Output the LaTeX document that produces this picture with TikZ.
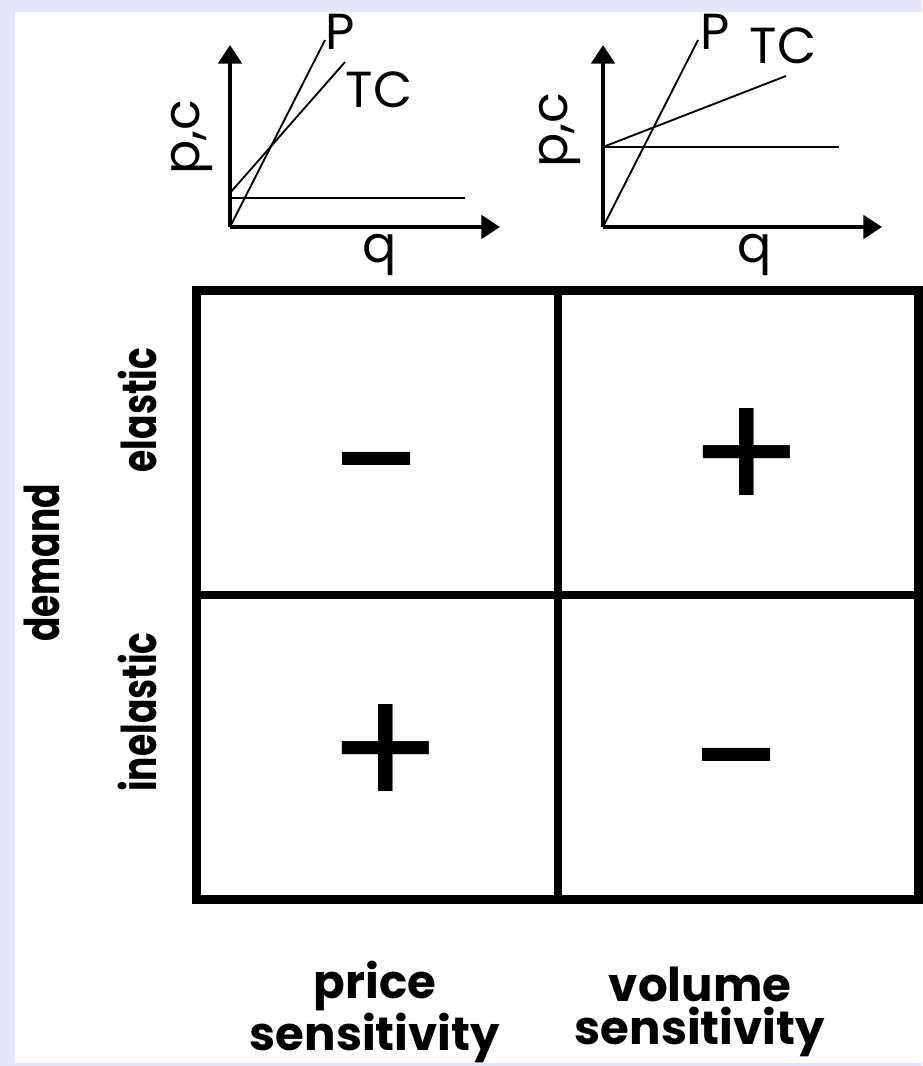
\documentclass[tikz,border=0pt]{standalone}
\usepackage{fontspec}
\setmainfont{Poppins}
\newfontfamily\rowfont{Poppins}[FakeStretch=0.75]
\newfontfamily\colfont{Poppins}[FakeStretch=1.0]
\usetikzlibrary{arrows.meta,positioning,calc}
\definecolor{pagelav}{RGB}{230,230,250}
\tikzset{
  axis/.style={line width=3pt,-{Triangle[length=14pt,width=17.5pt]}},
  curve/.style={line width=1.4pt},
  frame/.style={line width=6.75pt},
  divider/.style={line width=6pt},
  axlabel/.style={inner sep=0pt,font=\fontsize{38}{40}\selectfont},
  rowlabel/.style={inner sep=0pt,rotate=90,font=\rowfont\bfseries\fontsize{36}{38}\selectfont},
  collabel/.style={inner sep=0pt,align=center,font=\colfont\bfseries\fontsize{35}{32}\selectfont},
  sign/.style={inner sep=0pt,font=\fontsize{128}{128}\selectfont},
}

\begin{document}
\begin{tikzpicture}[x=0.75pt,y=-0.75pt]
  % page
  \fill[pagelav] (0,0) rectangle (922,1066);
  \fill[white] (15,12) rectangle (922,1063);
  \useasboundingbox (0,0) rectangle (922,1066);

  % left chart: price sensitivity
  \coordinate (o1)   at (230,227);
  \coordinate (y1)   at (230,45);
  \coordinate (x1)   at (500,227);
  \coordinate (fc1a) at (230,198);
  \coordinate (fc1b) at (465,198);
  \coordinate (tc1a) at (230,193);
  \coordinate (tc1b) at (345,62);
  \coordinate (p1b)  at (325,40);
  \draw[axis] (o1) -- (y1);
  \draw[axis] (o1) -- (x1);
  \draw[curve] (fc1a) -- (fc1b);
  \draw[curve] (tc1a) -- (tc1b);
  \draw[curve] (o1) -- (p1b);
  \node[axlabel] (p1)  at (340,32)  {P};
  \node[axlabel] (tc1) at (379,90)  {TC};
  \node[axlabel,rotate=90] (pc1) at (192,137) {p,c};
  \node[axlabel] (q1)  at (380,255) {q};

  % right chart: volume sensitivity
  \coordinate (o2)   at (603,227);
  \coordinate (y2)   at (603,45);
  \coordinate (x2)   at (882,227);
  \coordinate (fc2a) at (603,147);
  \coordinate (fc2b) at (839,147);
  \coordinate (tc2b) at (786,76);
  \coordinate (p2b)  at (698,40);
  \draw[axis] (o2) -- (y2);
  \draw[axis] (o2) -- (x2);
  \draw[curve] (fc2a) -- (fc2b);
  \draw[curve] (fc2a) -- (tc2b);
  \draw[curve] (o2) -- (p2b);
  \node[axlabel] (p2)  at (715,32)  {P};
  \node[axlabel] (tc2) at (783,46)  {TC};
  \node[axlabel,rotate=90] (pc2) at (560,130) {p,c};
  \node[axlabel] (q2)  at (755,255) {q};

  % matrix
  \coordinate (nw) at (196.5,290);
  \coordinate (se) at (918,899);
  \draw[frame] (nw) rectangle (se);
  \coordinate (mt) at (557.5,290);
  \coordinate (mb) at (557.5,899);
  \coordinate (ml) at (196.5,595);
  \coordinate (mr) at (918,595);
  \draw[divider] (mt) -- (mb);
  \draw[divider] (ml) -- (mr);

  \node[sign] (elprice) at (377,486.5) {−};
  \node[sign] (elvol)   at (747,461.5) {+};
  \node[sign] (inprice) at (386,757.5) {+};
  \node[sign] (invol)   at (736.5,783) {−};

  % labels
  \node[rowlabel] (demand)    at (42,563)  {demand};
  \node[rowlabel] (elastic)   at (137,410) {elastic};
  \node[rowlabel] (inelastic) at (137,712) {inelastic};
  \node[collabel] (price)  at (375,1012) {price\\sensitivity};
  \node[collabel] (volume) at (700,1012) {volume\\sensitivity};
\end{tikzpicture}
\end{document}
